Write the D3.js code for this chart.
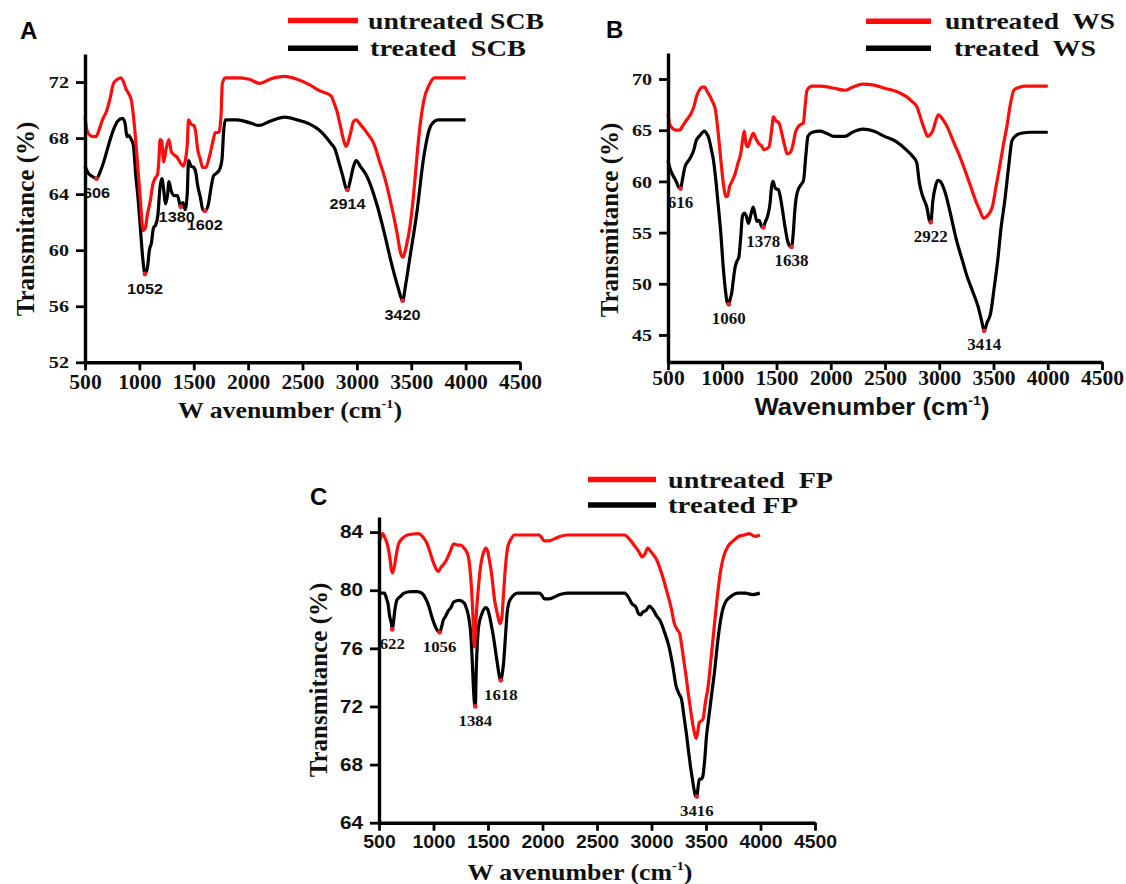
<!DOCTYPE html>
<html>
<head>
<meta charset="utf-8">
<script src="https://cdn.jsdelivr.net/npm/d3@7"></script>
<style>
  html, body { margin: 0; padding: 0; background: #fff; }
  svg { display: block; }
</style>
</head>
<body>
<svg id="fig" width="1126" height="884"></svg>
<script>
// ---------- FTIR spectra: [wavenumber (cm-1), transmittance (%)] ----------
const xTicks = [500, 1000, 1500, 2000, 2500, 3000, 3500, 4000, 4500];

// Panel A: sugarcane bagasse
const scbTicks = [52, 56, 60, 64, 68, 72];
const scbUntreated = [[500,69.5],[520,68.5],[545,68.2],[575,68.1],[600,68.1],[630,68.6],[660,69.3],[697,69.9],[730,70.8],[762,71.9],[800,72.2],[828,72.3],[855,72.0],[877,71.5],[900,71.2],[926,70.7],[945,69.6],[960,68.4],[985,66.0],[1009,63.6],[1035,61.4],[1055,61.6],[1075,62.6],[1100,63.5],[1124,64.7],[1150,65.2],[1167,65.4],[1180,66.5],[1190,67.9],[1205,67.8],[1223,66.3],[1245,67.2],[1272,67.9],[1295,67.0],[1321,66.8],[1350,66.6],[1380,66.2],[1403,66.0],[1425,66.5],[1440,67.5],[1452,69.3],[1475,69.0],[1501,68.9],[1520,68.3],[1534,67.3],[1560,66.5],[1583,65.9],[1610,65.9],[1648,66.8],[1680,67.9],[1698,68.4],[1730,68.4],[1750,69.5],[1763,71.9],[1790,72.3],[1900,72.3],[2010,72.2],[2108,71.9],[2200,72.2],[2337,72.4],[2450,72.2],[2567,71.8],[2650,71.4],[2764,71.0],[2790,70.5],[2814,70.0],[2850,68.8],[2880,67.8],[2901,67.4],[2940,68.3],[2970,69.2],[2993,69.3],[3030,69.0],[3100,68.3],[3156,67.6],[3210,66.3],[3255,65.2],[3320,63.1],[3370,61.2],[3402,59.8],[3425,59.5],[3452,60.2],[3490,61.8],[3517,63.6],[3545,66.0],[3567,67.9],[3616,70.7],[3665,71.8],[3714,72.3],[3850,72.3],[4000,72.3]];
const scbTreated = [[500,66.0],[530,65.5],[560,65.3],[606,65.1],[640,65.6],[680,66.5],[720,67.6],[762,68.6],[800,69.2],[845,69.4],[870,69.0],[885,68.1],[900,68.2],[925,67.9],[945,67.5],[965,65.5],[990,63.5],[1010,61.5],[1030,59.5],[1052,58.3],[1075,58.8],[1092,60.0],[1110,60.5],[1130,61.6],[1150,61.8],[1170,62.5],[1190,64.5],[1207,65.1],[1225,64.2],[1240,63.3],[1260,64.0],[1272,64.9],[1290,64.3],[1321,63.9],[1350,63.9],[1380,63.1],[1400,63.4],[1420,62.9],[1440,64.0],[1452,66.4],[1475,66.0],[1501,65.9],[1520,65.5],[1534,64.7],[1560,63.8],[1583,62.9],[1602,62.8],[1632,63.2],[1660,64.5],[1681,65.3],[1710,65.5],[1740,65.8],[1760,66.5],[1775,68.5],[1790,69.3],[1900,69.3],[2010,69.1],[2100,68.9],[2200,69.2],[2337,69.5],[2450,69.3],[2567,69.0],[2650,68.6],[2764,67.6],[2800,67.2],[2830,66.4],[2870,65.3],[2901,64.4],[2914,64.3],[2940,65.0],[2970,66.0],[2993,66.4],[3030,66.0],[3091,65.3],[3190,63.1],[3250,61.3],[3320,59.0],[3380,57.3],[3420,56.4],[3450,57.6],[3484,59.3],[3550,62.6],[3616,66.7],[3665,68.6],[3714,69.2],[3747,69.3],[3850,69.3],[4000,69.3]];
const scbPeaks = [[606,65.1],[1052,58.3],[1380,63.1],[1602,62.8],[2914,64.3],[3420,56.4]];

// Panel B: wheat straw
const wsTicks = [45, 50, 55, 60, 65, 70];
const wsUntreated = [[500,66.6],[515,65.6],[540,65.2],[575,65.0],[606,65.0],[640,65.5],[672,66.0],[700,66.4],[739,67.3],[760,68.2],[788,68.9],[820,69.2],[838,69.2],[860,68.8],[888,68.3],[910,67.8],[937,67.0],[960,65.0],[987,62.1],[1010,59.8],[1035,58.5],[1050,58.6],[1068,59.5],[1090,60.0],[1120,60.8],[1145,61.8],[1170,62.7],[1190,64.2],[1203,64.9],[1220,63.6],[1236,63.4],[1260,64.1],[1285,64.7],[1310,64.2],[1335,63.7],[1360,63.5],[1385,63.1],[1410,63.2],[1432,63.4],[1455,65.0],[1472,66.3],[1495,65.9],[1515,65.8],[1530,65.5],[1549,64.7],[1575,63.5],[1598,62.7],[1625,62.8],[1648,63.4],[1675,64.8],[1698,65.3],[1730,65.6],[1748,65.7],[1765,67.5],[1781,68.9],[1830,69.3],[1900,69.3],[2031,69.1],[2130,68.9],[2200,69.2],[2296,69.5],[2400,69.4],[2495,69.1],[2600,68.8],[2694,68.3],[2750,67.8],[2793,67.3],[2820,66.5],[2843,65.7],[2870,64.9],[2893,64.4],[2920,64.6],[2942,65.0],[2970,66.0],[2992,66.5],[3030,66.1],[3075,65.3],[3130,63.9],[3191,62.4],[3240,61.0],[3290,59.5],[3340,58.0],[3373,57.2],[3410,56.4],[3440,56.6],[3489,57.5],[3520,59.3],[3556,61.4],[3590,63.5],[3622,65.3],[3655,67.5],[3688,68.9],[3740,69.2],[3787,69.3],[4000,69.3]];
const wsTreated = [[500,62.0],[520,61.2],[545,60.6],[575,60.0],[600,59.4],[616,59.3],[635,60.3],[656,61.4],[700,62.2],[739,63.1],[760,64.0],[788,64.4],[838,64.9],[860,64.6],[871,64.4],[890,63.6],[904,62.9],[920,62.0],[937,60.5],[960,58.0],[987,54.9],[1010,51.5],[1030,49.3],[1045,48.2],[1060,48.0],[1075,48.6],[1087,49.1],[1100,50.2],[1120,51.7],[1140,52.3],[1153,52.6],[1170,54.5],[1186,56.6],[1205,56.9],[1219,56.7],[1242,55.9],[1265,56.8],[1285,57.5],[1300,56.9],[1319,56.1],[1340,56.2],[1362,55.6],[1378,55.5],[1395,56.0],[1418,56.6],[1440,57.8],[1455,59.5],[1468,60.0],[1490,59.3],[1517,59.2],[1535,58.5],[1551,57.5],[1575,55.8],[1600,54.3],[1620,53.7],[1638,53.6],[1655,55.0],[1667,56.9],[1683,58.5],[1700,59.2],[1720,59.6],[1749,60.1],[1770,62.5],[1790,64.4],[1830,64.8],[1898,64.9],[1960,64.7],[2031,64.4],[2130,64.4],[2200,64.8],[2296,65.1],[2400,64.9],[2495,64.4],[2600,63.9],[2694,63.1],[2750,62.5],[2793,61.8],[2815,60.0],[2840,58.8],[2860,58.2],[2885,57.5],[2909,56.2],[2922,56.0],[2942,58.2],[2965,59.5],[2986,60.1],[3010,60.0],[3058,58.8],[3100,57.0],[3158,54.3],[3210,52.4],[3257,50.7],[3310,49.2],[3357,47.8],[3390,46.4],[3414,45.4],[3440,46.2],[3473,47.1],[3505,49.5],[3539,52.3],[3570,55.5],[3605,58.2],[3640,61.5],[3671,64.0],[3710,64.5],[3754,64.7],[3850,64.8],[4000,64.8]];
const wsPeaks = [[616,59.3],[1060,48.0],[1378,55.5],[1638,53.6],[2922,56.0],[3414,45.4]];

// Panel C: fruit peel
const fpTicks = [64, 68, 72, 76, 80, 84];
const fpUntreated = [[500,83.2],[515,83.6],[533,83.9],[555,83.6],[582,83.0],[600,82.2],[614,81.4],[625,81.2],[640,81.6],[660,82.5],[680,83.2],[720,83.6],[761,83.8],[859,83.9],[900,83.7],[941,83.2],[965,82.7],[990,82.1],[1010,81.7],[1022,81.5],[1045,81.3],[1071,81.6],[1095,81.8],[1120,82.1],[1150,82.6],[1186,83.2],[1220,83.1],[1251,83.1],[1280,82.9],[1300,82.7],[1320,82.3],[1333,81.6],[1345,80.5],[1355,79.3],[1366,77.5],[1375,76.1],[1385,77.2],[1395,78.6],[1410,80.0],[1431,81.6],[1455,82.5],[1480,82.9],[1500,82.6],[1512,82.1],[1535,81.0],[1561,79.3],[1585,78.4],[1610,77.7],[1625,78.0],[1643,79.8],[1660,81.6],[1682,83.0],[1710,83.5],[1741,83.8],[1900,83.8],[1969,83.8],[2018,83.4],[2060,83.4],[2100,83.5],[2160,83.7],[2230,83.8],[2400,83.8],[2600,83.8],[2753,83.8],[2800,83.5],[2851,83.0],[2880,82.7],[2916,82.3],[2940,82.5],[2965,82.9],[3000,82.6],[3047,82.1],[3100,81.0],[3145,79.8],[3180,78.8],[3210,77.7],[3235,77.3],[3259,77.0],[3275,76.3],[3292,75.4],[3315,74.2],[3341,72.7],[3362,71.6],[3383,70.6],[3400,70.0],[3410,69.8],[3425,70.3],[3439,70.9],[3455,71.0],[3471,71.1],[3495,72.3],[3520,73.4],[3545,75.2],[3569,77.0],[3600,79.3],[3635,81.4],[3665,82.4],[3700,83.0],[3750,83.4],[3798,83.7],[3850,83.8],[3896,83.9],[3950,83.7],[3994,83.8]];
const fpTreated = [[500,79.8],[549,79.8],[570,79.4],[582,79.1],[598,78.2],[614,77.7],[622,77.3],[631,77.7],[645,78.6],[663,79.3],[700,79.6],[729,79.8],[794,79.9],[850,79.9],[892,79.8],[930,79.4],[957,78.9],[980,78.3],[1006,77.7],[1030,77.3],[1056,77.1],[1075,77.5],[1088,77.9],[1110,78.2],[1137,78.6],[1160,78.8],[1186,79.2],[1235,79.3],[1284,79.1],[1300,78.8],[1316,78.4],[1330,77.8],[1342,77.0],[1355,75.2],[1365,73.5],[1375,72.3],[1384,72.0],[1392,74.5],[1400,76.0],[1414,77.5],[1440,78.3],[1463,78.7],[1480,78.8],[1496,78.7],[1515,78.2],[1528,77.7],[1550,76.8],[1577,75.4],[1595,74.5],[1610,73.9],[1618,73.8],[1630,74.2],[1643,75.0],[1660,76.8],[1675,78.4],[1690,79.1],[1708,79.4],[1773,79.8],[1900,79.8],[1969,79.8],[1990,79.7],[2018,79.4],[2060,79.4],[2100,79.5],[2160,79.7],[2230,79.8],[2400,79.8],[2600,79.8],[2753,79.8],[2790,79.5],[2818,79.1],[2860,78.8],[2880,78.4],[2900,78.3],[2920,78.5],[2949,78.6],[2982,78.9],[3010,78.7],[3050,78.2],[3080,77.9],[3120,77.1],[3161,76.1],[3195,74.8],[3226,73.4],[3250,72.9],[3275,72.5],[3300,71.2],[3324,69.9],[3340,68.9],[3357,67.9],[3375,67.0],[3390,66.3],[3406,65.8],[3416,65.8],[3428,66.5],[3439,67.0],[3455,67.0],[3471,67.2],[3490,68.5],[3504,69.9],[3530,71.5],[3553,72.9],[3580,74.5],[3602,76.1],[3625,77.5],[3651,78.6],[3680,79.2],[3716,79.5],[3798,79.8],[3860,79.8],[3928,79.7],[3994,79.8]];
const fpPeaks = [[622,77.3],[1056,77.1],[1384,72.0],[1618,73.8],[3416,65.8]];

// ---------- panel layout ----------
const SERIF = "'Liberation Serif', 'Times New Roman', serif";
const SANS = "'Liberation Sans', Arial, sans-serif";

const panels = [
  {
    letter: "A", letterPos: [20, 39],
    xRange: [85, 520], yRange: [362.3, 54], yDomain: [52, 74], yTicks: scbTicks,
    untreated: scbUntreated, treated: scbTreated, peaks: scbPeaks,
    nudge: { 1380: [-4, -4] },
    yTickFont: [SERIF, 17.5], xTickFont: [SERIF, 20], xTickPad: 5,
    labelFont: [SANS, 14.5, 1.12],
    xTitle: { font: SERIF, size: 23, pos: [290, 418], spacedW: true, len: 224 },
    yTitle: { font: SERIF, size: 25, pos: [25, 219] },
    legend: { line: [288, 358], rows: [20.5, 48.2], textX: [368, 370], base: [28.5, 56],
              names: ["untreated SCB", "treated  SCB"], widths: [176, 156] }
  },
  {
    letter: "B", letterPos: [606, 38],
    xRange: [668, 1102], yRange: [362, 53], yDomain: [42.36, 72.54], yTicks: wsTicks,
    untreated: wsUntreated, treated: wsTreated, peaks: wsPeaks,
    nudge: {},
    yTickFont: [SERIF, 17.5], xTickFont: [SERIF, 20], xTickPad: 1,
    labelFont: [SERIF, 16, 1.06],
    xTitle: { font: SANS, size: 24, pos: [872, 415], spacedW: false, len: 235 },
    yTitle: { font: SERIF, size: 25, pos: [609, 220] },
    legend: { line: [866, 931], rows: [21.3, 48.3], textX: [945, 954], base: [29, 56],
              names: ["untreated  WS", "treated  WS"], widths: [170, 142] }
  },
  {
    letter: "C", letterPos: [310, 505],
    xRange: [379, 815], yRange: [822.7, 517], yDomain: [64, 85.04], yTicks: fpTicks,
    untreated: fpUntreated, treated: fpTreated, peaks: fpPeaks,
    nudge: {},
    yTickFont: [SANS, 18], xTickFont: [SANS, 18], xTickPad: 5,
    labelFont: [SERIF, 15, 1.12],
    xTitle: { font: SERIF, size: 23, pos: [580, 880], spacedW: true, len: 225 },
    yTitle: { font: SERIF, size: 25, pos: [318, 680] },
    legend: { line: [588, 656], rows: [479.5, 505], textX: [668, 668], base: [487.5, 513],
              names: ["untreated  FP", "treated FP"], widths: [165, 130] }
  }
];

const svg = d3.select("#fig");
svg.append("rect").attr("width", 1126).attr("height", 884).attr("fill", "#fff");

// widen glyphs horizontally by factor k
function stretch(sel, k) {
  sel.each(function () {
    const w = this.getComputedTextLength();
    if (w > 0) d3.select(this).attr("textLength", w * k).attr("lengthAdjust", "spacingAndGlyphs");
  });
}

panels.forEach((p, i) => {
  const g = svg.append("g");
  const x = d3.scaleLinear().domain([500, 4500]).range(p.xRange);
  const y = d3.scaleLinear().domain(p.yDomain).range(p.yRange);
  const line = d3.line().x(d => x(d[0])).y(d => y(d[1])).curve(d3.curveMonotoneX);

  // spectra
  g.append("path").datum(p.treated).attr("d", line)
    .attr("fill", "none").attr("stroke", "#000").attr("stroke-width", 3.2).attr("stroke-linejoin", "round");
  g.append("path").datum(p.untreated).attr("d", line)
    .attr("fill", "none").attr("stroke", "#ff0d0d").attr("stroke-width", 3.2).attr("stroke-linejoin", "round");

  // peak markers and wavenumber labels (clipped at the y axis)
  const clipId = "clip" + i;
  svg.append("clipPath").attr("id", clipId).append("rect")
    .attr("x", p.xRange[0]).attr("y", 0).attr("width", 1126).attr("height", 884);
  const lg = g.append("g").attr("clip-path", `url(#${clipId})`);
  lg.selectAll("circle").data(p.peaks).join("circle")
    .attr("cx", d => x(d[0])).attr("cy", d => y(d[1])).attr("r", 2.4).attr("fill", "#e8202a");
  const labels = lg.selectAll("text").data(p.peaks).join("text")
    .attr("x", d => x(d[0]) + ((p.nudge[d[0]] || [0, 0])[0]))
    .attr("y", d => y(d[1]) + 19.5 + ((p.nudge[d[0]] || [0, 0])[1]))
    .attr("text-anchor", "middle")
    .attr("font-family", p.labelFont[0]).attr("font-size", p.labelFont[1]).attr("font-weight", "bold")
    .attr("fill", "#111")
    .text(d => d[0]);
  stretch(labels, p.labelFont[2]);

  // axes
  const yAxis = d3.axisLeft(y).tickValues(p.yTicks).tickFormat(d3.format("d"))
    .tickSize(9).tickSizeOuter(0).tickPadding(7);
  const ya = g.append("g").attr("transform", `translate(${p.xRange[0]},0)`).call(yAxis);
  const xAxis = d3.axisBottom(x).tickValues(xTicks).tickFormat(d3.format("d"))
    .tickSize(8).tickSizeOuter(0).tickPadding(p.xTickPad);
  const xa = g.append("g").attr("transform", `translate(0,${p.yRange[0]})`).call(xAxis);

  [ya, xa].forEach(a => {
    a.select(".domain").attr("stroke", "#000").attr("stroke-width", 3.4);
    a.selectAll(".tick line").attr("stroke", "#000").attr("stroke-width", 2.8);
  });
  ya.selectAll(".tick text").attr("font-family", p.yTickFont[0]).attr("font-size", p.yTickFont[1])
    .attr("font-weight", "bold").attr("fill", "#111");
  xa.selectAll(".tick text").attr("font-family", p.xTickFont[0]).attr("font-size", p.xTickFont[1])
    .attr("font-weight", "bold").attr("fill", "#111");
  stretch(ya.selectAll(".tick text"), 1.15);
  stretch(xa.selectAll(".tick text"), 1.08);

  // axis titles
  const xt = g.append("text")
    .attr("x", p.xTitle.pos[0]).attr("y", p.xTitle.pos[1])
    .attr("text-anchor", "middle").attr("font-family", p.xTitle.font)
    .attr("font-size", p.xTitle.size).attr("font-weight", "bold").attr("fill", "#111")
    .attr("textLength", p.xTitle.len).attr("lengthAdjust", "spacingAndGlyphs");
  xt.append("tspan").text(p.xTitle.spacedW ? "W avenumber (cm" : "Wavenumber (cm");
  xt.append("tspan").attr("dy", -p.xTitle.size * 0.42).attr("font-size", p.xTitle.size * 0.55).text("-1");
  xt.append("tspan").attr("dy", p.xTitle.size * 0.42).text(")");

  g.append("text")
    .attr("transform", `translate(${p.yTitle.pos[0]},${p.yTitle.pos[1]}) rotate(-90)`)
    .attr("text-anchor", "middle").attr("dy", "0.35em")
    .attr("font-family", p.yTitle.font).attr("font-size", p.yTitle.size).attr("font-weight", "bold")
    .attr("fill", "#111")
    .text("Transmitance (%)");

  // legend
  const L = p.legend;
  ["#ff0d0d", "#000"].forEach((c, k) => {
    g.append("line").attr("x1", L.line[0]).attr("x2", L.line[1])
      .attr("y1", L.rows[k]).attr("y2", L.rows[k])
      .attr("stroke", c).attr("stroke-width", 5.5);
    g.append("text").attr("x", L.textX[k]).attr("y", L.base[k])
      .attr("font-family", SERIF).attr("font-size", 23).attr("font-weight", "bold").attr("fill", "#111")
      .attr("textLength", L.widths[k]).attr("lengthAdjust", "spacingAndGlyphs")
      .attr("xml:space", "preserve")
      .text(L.names[k]);
  });

  // panel letter
  g.append("text").attr("x", p.letterPos[0]).attr("y", p.letterPos[1])
    .attr("font-family", SANS).attr("font-size", 24).attr("font-weight", "bold").attr("fill", "#000")
    .text(p.letter);
});
</script>
</body>
</html>
